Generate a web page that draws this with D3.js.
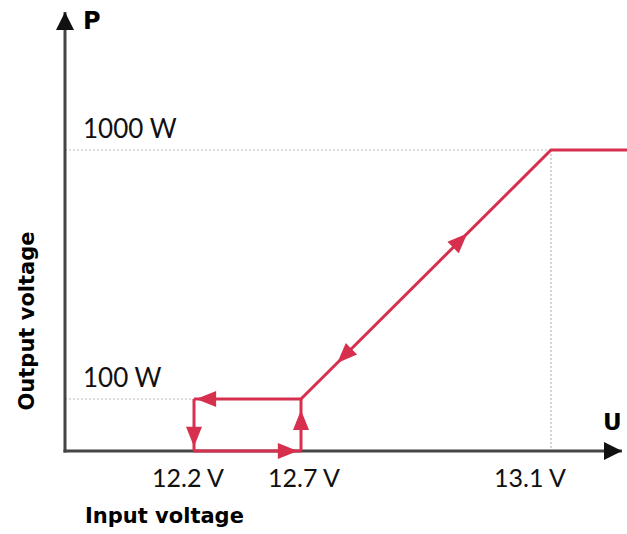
<!DOCTYPE html>
<html><head><meta charset="utf-8">
<script src="https://cdn.jsdelivr.net/npm/d3@7"></script>
<style>body{margin:0;background:#fff}</style>
</head><body>
<svg id="c" width="627" height="534"></svg>
<script>
// Data
const voltageTicks = [12.2, 12.7, 13.1];
const voltageLabels = ["12.2 V", "12.7 V", "13.1 V"];
const powerTicks = [100, 1000];
const powerLabels = ["100 W", "1000 W"];
// hysteresis loop path (U, P)
const loopU = [12.2, 12.2, 12.7, 12.7, 12.2];
const loopP = [100, 0, 0, 100, 100];
// ramp
const rampU = [12.7, 13.1, 13.4];
const rampP = [100, 1000, 1000];

const svg = d3.select("#c");
const red = "#d6304e";
const axisCol = "#454545";
const font = "Lato, 'Open Sans', sans-serif";
const boldFont = "'DejaVu Sans', sans-serif";

// schematic (piecewise) scales
const x = d3.scaleLinear().domain([11.9, 12.2, 12.7, 13.1, 13.4]).range([65, 194, 301, 551, 627]);
const y = d3.scaleLinear().domain([0, 100, 1000, 1400]).range([451, 399, 150, 12]);

// guide dotted lines
const guide = svg.append("g").attr("stroke", "#bbb").attr("stroke-width", 1.2).attr("stroke-dasharray", "2,2");
guide.append("line").attr("x1", x(11.9)).attr("x2", x(13.1)).attr("y1", y(1000)).attr("y2", y(1000));
guide.append("line").attr("x1", x(13.1)).attr("x2", x(13.1)).attr("y1", y(1000)).attr("y2", y(0));
guide.append("line").attr("x1", x(11.9)).attr("x2", x(12.2)).attr("y1", y(100)).attr("y2", y(100));

// axes
svg.append("defs").append("marker")
  .attr("id", "ax").attr("viewBox", "0 0 10 10").attr("refX", 10).attr("refY", 5)
  .attr("markerUnits", "userSpaceOnUse")
  .attr("markerWidth", 19).attr("markerHeight", 18)
  .attr("orient", "auto")
  .append("path").attr("d", "M0,0L10,5L0,10Z").attr("fill", "#111");

svg.append("line").attr("x1", x(11.9)).attr("y1", y(0) + 1.5).attr("x2", x(11.9)).attr("y2", y(1400))
  .attr("stroke", axisCol).attr("stroke-width", 3).attr("marker-end", "url(#ax)");
svg.append("line").attr("x1", x(11.9) - 1.5).attr("y1", y(0)).attr("x2", 622).attr("y2", y(0))
  .attr("stroke", axisCol).attr("stroke-width", 3).attr("marker-end", "url(#ax)");

// red lines
const rg = svg.append("g").attr("stroke", red).attr("stroke-width", 3).attr("fill", "none");
const pts = loopU.map((u, i) => [x(u), y(loopP[i])]);
for (let i = 0; i < pts.length - 1; i++) {
  rg.append("line").attr("x1", pts[i][0]).attr("y1", pts[i][1]).attr("x2", pts[i+1][0]).attr("y2", pts[i+1][1]);
}
rg.append("path").attr("d", d3.line()(rampU.map((u, i) => [x(u), y(rampP[i])])));

// arrowheads on segments (at fraction t)
function arrow(p0, p1, t) {
  const ax = p0[0] + (p1[0] - p0[0]) * t, ay = p0[1] + (p1[1] - p0[1]) * t;
  const ang = Math.atan2(p1[1] - p0[1], p1[0] - p0[0]) * 180 / Math.PI;
  svg.append("path").attr("d", "M0,0L-20,-8L-20,8Z").attr("fill", red)
    .attr("transform", `translate(${ax},${ay}) rotate(${ang})`);
}
arrow(pts[0], pts[1], 0.92);
arrow(pts[1], pts[2], 0.97);
arrow(pts[2], pts[3], 0.79);
arrow(pts[3], pts[4], 0.98);
const r0 = [x(12.7), y(100)], r1 = [x(13.1), y(1000)];
arrow(r0, r1, 0.665);
arrow(r1, r0, 0.855);

// tick labels
const tickDx = [-6, 3, -21];
svg.append("g").selectAll("text").data(voltageTicks).join("text")
  .attr("x", (d, i) => x(d) + tickDx[i]).attr("y", 487).attr("text-anchor", "middle")
  .attr("font-family", font).attr("font-size", 25).attr("fill", "#111")
  .text((d, i) => voltageLabels[i]);
svg.append("g").selectAll("text").data(powerTicks).join("text")
  .attr("x", 83).attr("y", d => y(d) - 12)
  .attr("font-family", font).attr("font-size", 26).attr("fill", "#111")
  .text((d, i) => powerLabels[i]);

// axis letters and titles
svg.append("text").attr("x", 83).attr("y", 29).attr("font-family", boldFont).attr("font-weight", "bold")
  .attr("font-size", 24).attr("fill", "#000").text("P");
svg.append("text").attr("x", 603).attr("y", 430).attr("font-family", boldFont).attr("font-weight", "bold")
  .attr("font-size", 23).attr("fill", "#000").text("U");
svg.append("text").attr("x", 85).attr("y", 523).attr("font-family", boldFont).attr("font-weight", "bold")
  .attr("font-size", 21).attr("fill", "#000").text("Input voltage");
svg.append("text").attr("transform", "translate(34,321) rotate(-90)").attr("text-anchor", "middle")
  .attr("font-family", boldFont).attr("font-weight", "bold")
  .attr("font-size", 21).attr("fill", "#000").text("Output voltage");
</script>
</body></html>
